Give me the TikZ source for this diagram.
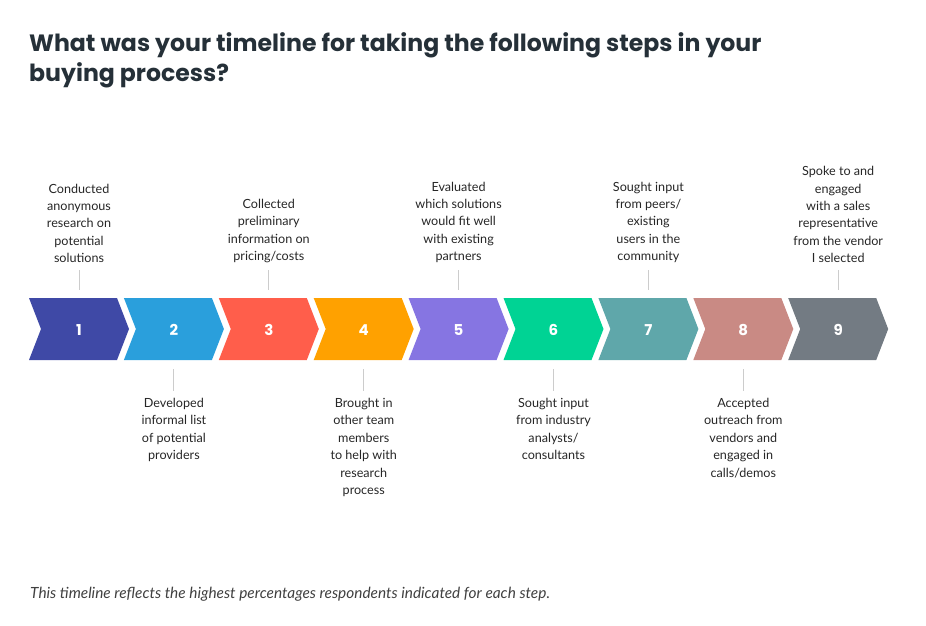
\documentclass[tikz,border=0pt]{standalone}
\usepackage{fontspec}
\setmainfont{Lato}
\newfontfamily\headfont{Poppins}
\begin{document}
\begin{tikzpicture}[x=1pt,y=-1pt,
  lbl/.style={align=center,font=\fontsize{12.6}{17.4}\selectfont,text=black!85,inner sep=0pt},
  tick/.style={draw=black!20,line width=1pt},
  num/.style={text=white,font=\headfont\fontsize{15}{15}\selectfont\bfseries}]
\definecolor{titlec}{HTML}{253038}
\useasboundingbox (0,0) rectangle (926,626);
\node[anchor=north west,align=left,inner sep=0pt,text=titlec,font=\headfont\fontsize{23.6}{30}\selectfont\bfseries] (title) at (29,32) {What was your timeline for taking the following steps in your\\buying process?};
\foreach \i/\c in {1/3F49A6,2/2A9FDC,3/FF5E4B,4/FFA100,5/8675E2,6/00D394,7/5FA7AA,8/C98A84,9/737B83}{
  \definecolor{cc}{HTML}{\c}
  \pgfmathsetmacro{\xs}{29+(\i-1)*94.9}
  \fill[cc] (\xs,298) -- ++(88,0) -- ++(12,31) -- ++(-12,31) -- ++(-88,0) -- ++(12,-31) -- cycle;
  \node[num] (n\i) at (\xs+50,330) {\i};
  \coordinate (c\i) at (\xs+50,329);
}
\foreach \i/\txt in {1/{Conducted\\anonymous\\research on\\potential\\solutions},3/{Collected\\preliminary\\information on\\pricing/costs},5/{Evaluated\\which solutions\\would fit well\\with existing\\partners},7/{Sought input\\from peers/\\existing\\users in the\\community},9/{Spoke to and\\engaged\\with a sales\\representative\\from the vendor\\I selected}}{
  \node[lbl,anchor=south] (t\i) at ([yshift=-263]c\i|-0,0) {\txt};
  \draw[tick] ([yshift=-270]c\i|-0,0) coordinate (ta\i) -- ([yshift=-290]c\i|-0,0) coordinate (tb\i);
}
\foreach \i/\txt in {2/{Developed\\informal list\\of potential\\providers},4/{Brought in\\other team\\members\\to help with\\research\\process},6/{Sought input\\from industry\\analysts/\\consultants},8/{Accepted\\outreach from\\vendors and\\engaged in\\calls/demos}}{
  \draw[tick] ([yshift=-369]c\i|-0,0) coordinate (ta\i) -- ([yshift=-391]c\i|-0,0) coordinate (tb\i);
  \node[lbl,anchor=north] (t\i) at ([yshift=-398]c\i|-0,0) {\txt};
}
\node[anchor=west,inner sep=0pt,text=black!75,font=\fontsize{15.4}{16}\selectfont\itshape] (foot) at (30,594) {This timeline reflects the highest percentages respondents indicated for each step.};
\end{tikzpicture}
\end{document}
